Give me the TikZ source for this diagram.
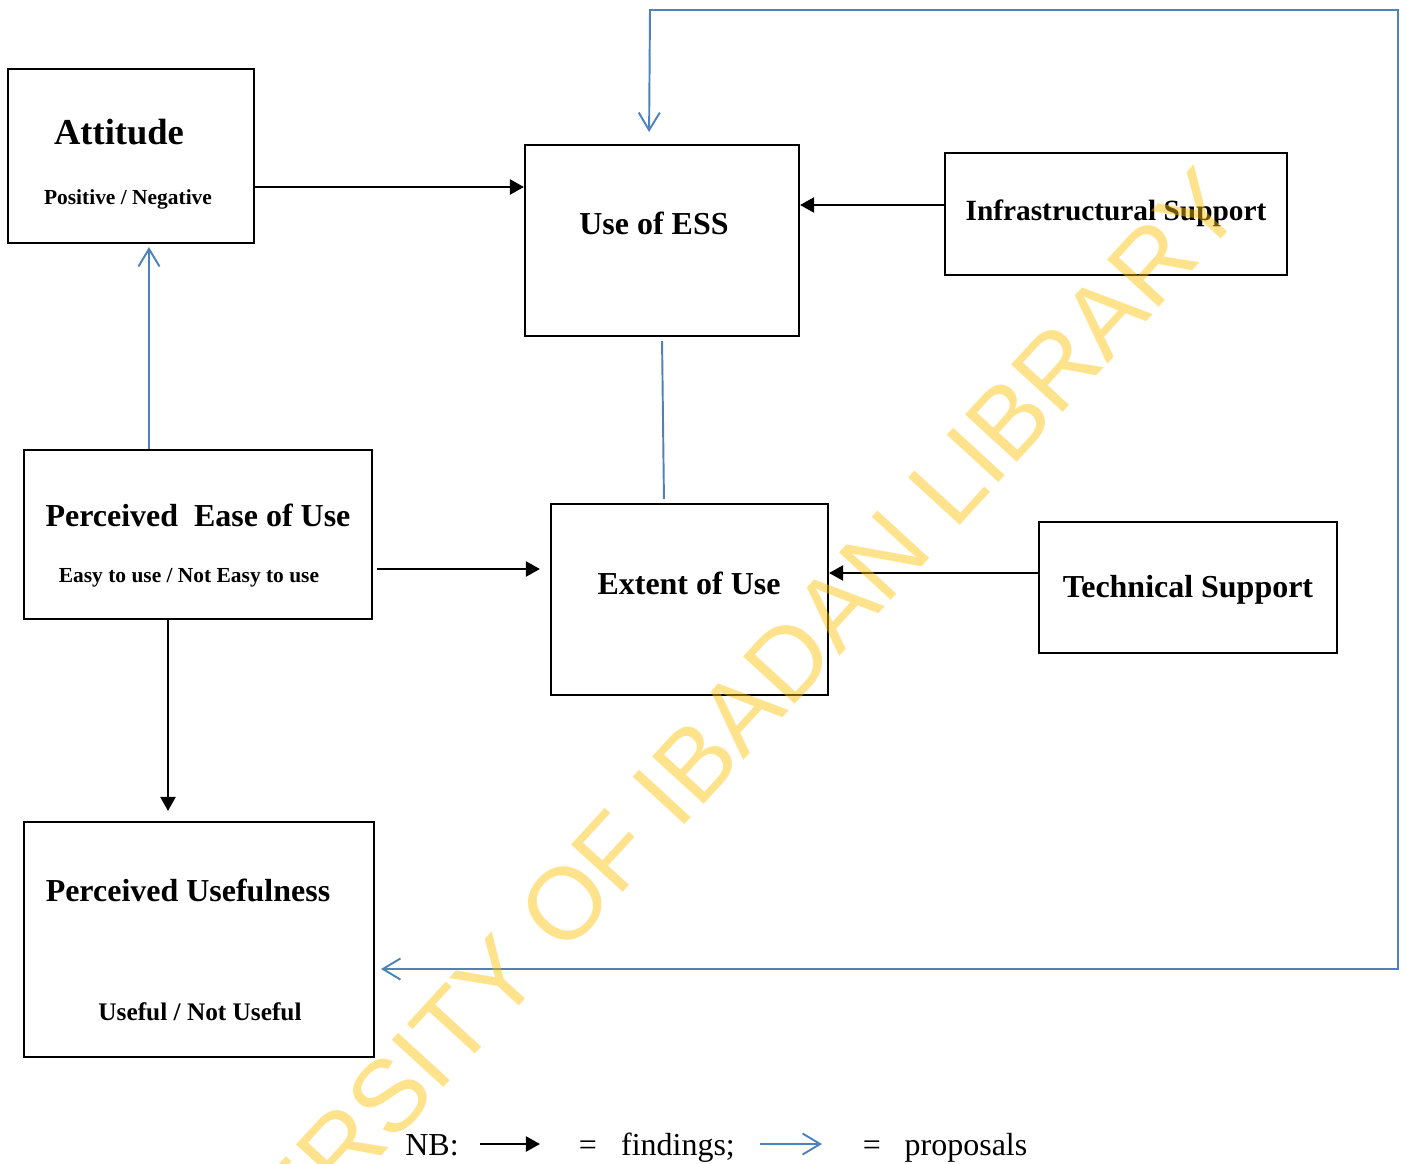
\documentclass[tikz,border=0pt]{standalone}
\usepackage{fontspec}
\setmainfont{Liberation Serif}
\newfontfamily\wmfont{Liberation Sans}
\usetikzlibrary{arrows.meta}

\definecolor{propblue}{HTML}{4F81BD}
\definecolor{wmyellow}{HTML}{FFC000}

\tikzset{
  box/.style={draw, rectangle, line width=1.2pt, inner sep=0pt},
  head/.style={font=\bfseries\fontsize{18.2}{22}\selectfont, inner sep=0pt},
  sub/.style={font=\bfseries\fontsize{12.2}{14}\selectfont, inner sep=0pt},
  legend/.style={font=\fontsize{18.2}{22}\selectfont, inner sep=0pt, anchor=base},
  finding/.style={draw, line width=1.4pt, -{Triangle[length=8pt,width=8.5pt]}},
  proposal/.style={draw=propblue, line width=1.1pt, -{Straight Barb[length=10pt,width=12pt]}},
}

\begin{document}
\begin{tikzpicture}[x=0.02cm, y=-0.02cm]
    \useasboundingbox (0,0) rectangle (1406,1163);
    % Boxes
    \node[box, minimum width=4.92cm, minimum height=3.48cm] (att) at (131,156) {};
    \node[box, minimum width=5.48cm, minimum height=3.82cm] (ess) at (662,240.5) {};
    \node[box, minimum width=6.84cm, minimum height=2.44cm] (infra) at (1116,214) {};
    \node[box, minimum width=6.96cm, minimum height=3.38cm] (peou) at (198,534.5) {};
    \node[box, minimum width=5.54cm, minimum height=3.82cm] (ext) at (689.5,599.5) {};
    \node[box, minimum width=5.96cm, minimum height=2.62cm] (tech) at (1188,587.5) {};
    \node[box, minimum width=7.00cm, minimum height=4.70cm] (pu) at (199,939.5) {};

    % Box texts
    \node[head, font=\bfseries\fontsize{20.8}{24}\selectfont] (attT) at (119,132) {Attitude};
    \node[sub] (attS) at (128,199) {Positive / Negative};
    \node[head] (essT) at (654,223) {Use of ESS};
    \node[head, font=\bfseries\fontsize{16.7}{20}\selectfont] (infraT) at (1116,213) {Infrastructural Support};
    \node[head] (peouT) at (198,515) {Perceived\ \ Ease of Use};
    \node[sub] (peouS) at (189,578) {Easy to use / Not Easy to use};
    \node[head] (extT) at (689,583) {Extent of Use};
    \node[head] (techT) at (1188,590) {Technical Support};
    \node[head] (puT) at (188,890) {Perceived Usefulness};
    \node[sub, font=\bfseries\fontsize{14.4}{17}\selectfont] (puS) at (200,1012) {Useful / Not Useful};

    % Findings
    \draw[finding] (att.east |- 0,187) -- (ess.west |- 0,187);
    \draw[finding] (infra.west |- 0,205) -- (ess.east |- 0,205);
    \draw[finding, shorten <=2.3pt, shorten >=5.7pt] (peou.east |- 0,569) -- (ext.west |- 0,569);
    \draw[finding] (tech.west |- 0,573) -- (ext.east |- 0,573);
    \draw[finding, shorten >=5.7pt] (peou.south -| 168,0) -- (pu.north -| 168,0);

    % Proposals
    \coordinate (cornerNE) at (1398,10);
    \coordinate (cornerSE) at (1398,969);
    \coordinate (cornerNW) at (650,10);
    \draw[proposal, shorten >=1.7pt] (peou.north -| 149,0) -- (att.south -| 149,0);
    \draw[draw=propblue, line width=1.1pt, shorten <=2.3pt, shorten >=2.3pt] (ess.south -| 662,0) -- (ext.north -| 664,0);
    \draw[proposal, {Straight Barb[length=10pt,width=12pt]}-{Straight Barb[length=10pt,width=12pt]},
          shorten <=3.4pt, shorten >=6.8pt]
        (pu.east |- cornerSE) -- (cornerSE) -- (cornerNE) -- (cornerNW) -- (ess.north -| 649,0);

    % Legend
    \node[legend] (nb) at (432,1155) {NB:};
    \coordinate (fA) at (480,1144);
    \coordinate (fB) at (540,1144);
    \draw[finding] (fA) -- (fB);
    \node[legend] (eqA) at (588,1155) {=};
    \node[legend] (fnd) at (678,1155) {findings;};
    \coordinate (pA) at (760,1144);
    \coordinate (pB) at (822,1144);
    \draw[proposal] (pA) -- (pB);
    \node[legend] (eqB) at (872,1155) {=};
    \node[legend] (prop) at (966,1155) {proposals};

    % Watermark
    \clip (0,0) rectangle (1406,1163);
    \node[rotate=47.5, text=wmyellow, opacity=0.45, inner sep=0pt,
          font=\wmfont\fontsize{58}{62}\selectfont] (wm) at (664,796) {UNIVERSITY OF IBADAN LIBRARY};
\end{tikzpicture}
\end{document}
